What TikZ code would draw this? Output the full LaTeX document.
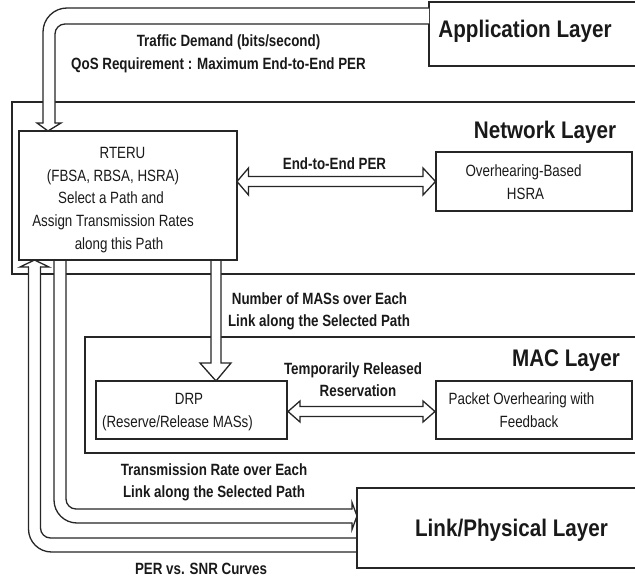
\documentclass[tikz,border=0pt]{standalone}
\usepackage{fontspec}
\setmainfont{Liberation Sans}
\newfontfamily\smf{Liberation Sans}[FakeStretch=0.82]
\newfontfamily\bgf{Liberation Sans}[FakeStretch=0.86]
\begin{document}
\begin{tikzpicture}[x=1pt,y=-1pt,
  box/.style={draw=black!85, line width=1.3pt, inner sep=0pt, outer sep=0pt, anchor=north west},
  lbl/.style={anchor=base, inner sep=0pt, text=black!90, font=\smf\fontsize{16.3}{20}\selectfont},
  blbl/.style={anchor=base, inner sep=0pt, text=black!90, font=\smf\bfseries\fontsize{16.3}{20}\selectfont},
  big/.style={anchor=base, inner sep=0pt, text=black!90, font=\bgf\bfseries\fontsize{24}{28}\selectfont},
  arr/.style={draw=black!85, line width=1.3pt, line cap=round}]
\useasboundingbox (0,0) rectangle (635,583);
% layer boxes
\node[box, minimum width=628pt, minimum height=172pt] (net) at (12,102) {};
\node[box, minimum width=555pt, minimum height=116pt] (mac) at (85,337) {};
\node[box, minimum width=211pt, minimum height=64pt] (app) at (429,2) {};
% Application -> RTERU
\fill[white] (429,8) -- (43,8) -- (43,123) -- (37,123) -- (48,131) -- (61,123) -- (55,123) -- (55,24) -- (429,24) -- cycle;
\draw[arr, rounded corners=24pt] (429,8) -- (43,8) -- (43,123);
\draw[arr] (43,123) -- (37,123) -- (48,131) -- (61,123) -- (55,123);
\draw[arr, rounded corners=10pt] (55,123) -- (55,24) -- (429,24);
% End-to-End PER
\draw[arr, fill=white] (237,181.5) -- (248.5,168) -- (248.5,176.5) -- (423,176.5) -- (423,168) -- (435.5,181.5) -- (423,195) -- (423,186.5) -- (248.5,186.5) -- (248.5,195) -- cycle;
% Number of MASs
\fill[white] (211,260.7) -- (211,363) -- (200,363) -- (216,381) -- (231,363) -- (221,363) -- (221,260.7) -- cycle;
\draw[arr] (211,260) -- (211,363) -- (200,363) -- (216,381) -- (231,363) -- (221,363) -- (221,260);
% Reservation
\draw[arr, fill=white] (288,411.5) -- (300,401) -- (300,406.5) -- (423,406.5) -- (423,401) -- (435,411.5) -- (423,422) -- (423,416.5) -- (300,416.5) -- (300,422) -- cycle;
% Transmission rate: RTERU -> Link/Physical
\fill[white] (54,260.7) -- (54,523) -- (352,523) -- (352,529.5) -- (357,516) -- (352,502.5) -- (352,509) -- (66,509) -- (66,260.7) -- cycle;
\draw[arr, rounded corners=23pt] (54,260) -- (54,523) -- (352,523);
\draw[arr] (352,523) -- (352,529.5) -- (357,516) -- (352,502.5) -- (352,509);
\draw[arr, rounded corners=10pt] (352,509) -- (66,509) -- (66,260);
% PER vs SNR: Link/Physical -> RTERU
\fill[white] (357,552) -- (28.5,552) -- (28.5,267) -- (20,267) -- (34.5,260) -- (49,267) -- (40.5,267) -- (40.5,538) -- (357,538) -- cycle;
\draw[arr, rounded corners=23pt] (357,552) -- (28.5,552) -- (28.5,267);
\draw[arr] (28.5,267) -- (20,267) -- (34.5,260) -- (49,267) -- (40.5,267);
\draw[arr, rounded corners=10pt] (40.5,267) -- (40.5,538) -- (357,538);
% inner boxes
\node[box, minimum width=218pt, minimum height=129pt] (rteru) at (19,131) {};
\node[box, minimum width=196pt, minimum height=59pt] (ohsra) at (436,152) {};
\node[box, minimum width=191pt, minimum height=58pt] (drp) at (96,381) {};
\node[box, minimum width=196pt, minimum height=58pt] (pov) at (436,381) {};
\node[box, minimum width=283pt, minimum height=80pt] (phy) at (357,488) {};
% big labels
\node[big] (tapp) at (525,38) {Application Layer};
\node[big] (tnet) at (545,139) {Network Layer};
\node[big] (tmac) at (566,366.5) {MAC Layer};
\node[big] (tphy) at (511.5,536.5) {Link/Physical Layer};
% bold labels
\node[blbl] (l1) at (228.5,46.5) {Traffic Demand (bits/second)};
\node[blbl] (l2) at (218.5,69.5) {QoS Requirement : Maximum End-to-End PER};
\node[blbl] (l3) at (334.5,170) {End-to-End PER};
\node[blbl] (l4) at (319.5,304) {Number of MASs over Each};
\node[blbl] (l5) at (319,326) {Link along the Selected Path};
\node[blbl] (l6) at (353,374) {Temporarily Released};
\node[blbl] (l7) at (358,396.5) {Reservation};
\node[blbl] (l8) at (214,475) {Transmission Rate over Each};
\node[blbl] (l9) at (214,497.5) {Link along the Selected Path};
\node[blbl] (l10) at (201,574) {PER vs. SNR Curves};
% box texts
\node[lbl] (r1) at (122.5,159) {RTERU};
\node[lbl] (r2) at (113,181.5) {(FBSA, RBSA, HSRA)};
\node[lbl] (r3) at (111,204) {Select a Path and};
\node[lbl] (r4) at (113,226.5) {Assign Transmission Rates};
\node[lbl] (r5) at (119,249) {along this Path};
\node[lbl] (o1) at (523.5,177) {Overhearing-Based};
\node[lbl] (o2) at (525.5,199.5) {HSRA};
\node[lbl] (d1) at (189,404) {DRP};
\node[lbl] (d2) at (177.5,427) {(Reserve/Release MASs)};
\node[lbl] (p1) at (521.5,404) {Packet Overhearing with};
\node[lbl] (p2) at (529,427) {Feedback};
\end{tikzpicture}
\end{document}
